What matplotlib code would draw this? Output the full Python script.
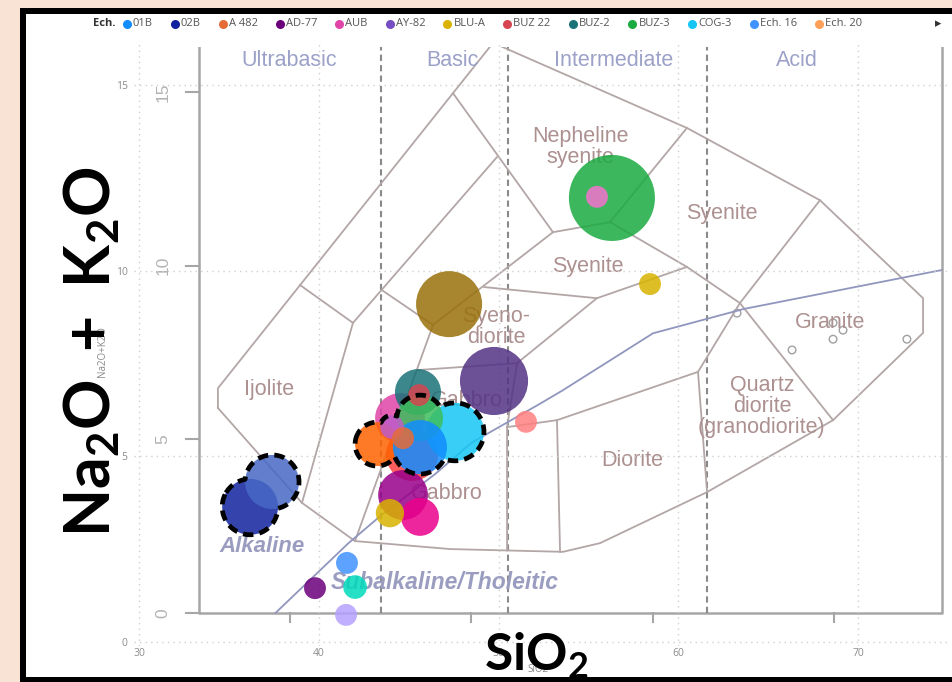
import numpy as np
import matplotlib
matplotlib.use("Agg")
import matplotlib.pyplot as plt
from matplotlib.patches import Rectangle
from matplotlib.lines import Line2D

plt.rcParams['mathtext.fontset'] = 'custom'
plt.rcParams['mathtext.rm'] = 'Lato:bold'
plt.rcParams['mathtext.it'] = 'Lato:bold'
plt.rcParams['mathtext.bf'] = 'Lato:bold'

W, H = 952, 682

# légende (premières catégories affichées)
leg_names = ['01B', '02B', 'A 482', 'AD-77', 'AUB', 'AY-82', 'BLU-A', 'BUZ 22',
             'BUZ-2', 'BUZ-3', 'COG-3', 'Ech. 16', 'Ech. 20']
leg_colors = ['#118DFF', '#12239E', '#E66C37', '#6B007B', '#E044A7', '#744EC2', '#D9B300',
              '#D64550', '#197278', '#1AAB40', '#15C6F4', '#4092FF', '#FFA058']

# échantillons, dans l'ordre de tracé
sample = ['Ech. 27', 'AUB', 'Ech. 24', 'BUZ-2', 'COG-3', 'Ech. 21', 'BUZ 22', '01B',
          'Ech. 25', 'Ech. 26', 'BLU-A', 'Ech. 17', 'A 482', '02B', 'Ech. 23', 'Ech. 16',
          'AD-77', 'Ech. 19', 'Ech. 18', 'Ech. 28', 'AY-82', 'Ech. 22', 'BUZ-3', 'Ech. 29', 'Ech. 30']
sio2 = [45.19, 44.52, 43.24, 45.52, 47.58, 45.63, 45.58, 45.63,
        44.69, 45.63, 43.96, 44.08, 44.69, 36.18, 37.40, 41.57,
        39.79, 42.02, 41.52, 47.25, 49.75, 51.53, 56.31, 55.48, 58.43]
alk = [5.04, 6.03, 5.33, 6.73, 5.66, 6.03, 6.65, 5.25,
       3.96, 3.37, 3.47, 5.79, 5.49, 3.64, 4.31, 2.13,
       1.45, 1.48, 0.73, 9.10, 7.03, 5.93, 11.96, 11.99, 9.64]
taille = [68, 62, 48, 53, 84, 53, 12, 73,
          62, 36, 20, 14, 12, 78, 73, 12,
          12, 14, 12, 109, 116, 12, 185, 12, 12]
couleur = ['#FF4141', '#E044A7', '#FF6300', '#197278', '#15C6F4', '#3DBE5C', '#D64550', '#118DFF',
           '#99008A', '#EC008C', '#D9B300', '#BE5DC9', '#E66C37', '#12239E', '#4668C5', '#4092FF',
           '#6B007B', '#00DBBC', '#B5A1FF', '#99700A', '#533285', '#FF8080', '#1AAB40', '#F472D0', '#D9B300']

# échantillons sélectionnés (contour pointillé)
selection = [['02B', 'Ech. 23'], ['Ech. 24', 'Ech. 17', 'Ech. 21', '01B', 'COG-3']]

# diagramme TAS plutonique (fond) : limites des champs
ib_sio2 = [39.2, 40, 43.2, 45, 48, 50, 53.7, 55, 60, 65, 75.9]
ib_alk = [0, 0.4, 2, 2.8, 4, 4.9, 6, 6.4, 8.05, 8.75, 9.87]
outer_sio2 = [36.03, 36.03, 51.19, 61.87, 69.20, 74.88, 74.88, 69.92, 62.98, 57.08, 55.04,
              48.82, 43.58, 40.66, 36.03]
outer_alk = [5.90, 6.47, 16.41, 13.96, 11.88, 9.06, 8.06, 5.55, 3.48, 2.01, 1.76,
             1.84, 2.07, 3.17, 5.90]
field_lines = [
    ([48.98, 54.49], [14.96, 10.96]),
    ([51.4, 43.47, 40.66], [13.12, 8.35, 3.17]),
    ([40.55, 43.47], [9.44, 8.35]),
    ([45.07, 47.88], [9.29, 8.29]),
    ([54.49, 47.88, 43.58], [10.96, 8.29, 2.07]),
    ([54.49, 57.63], [10.96, 11.25]),
    ([57.63, 61.87], [11.25, 13.96]),
    ([57.63, 61.87, 64.79, 69.92], [11.25, 9.96, 8.92, 5.55]),
    ([61.87, 56.91, 50.70], [9.96, 9.06, 9.38]),
    ([56.91, 52.51], [9.06, 7.19]),
    ([52.51, 46.98], [7.19, 6.99]),
    ([52.51, 51.96, 51.96], [7.19, 5.35, 1.80]),
    ([51.96, 54.71], [5.35, 5.55]),
    ([54.71, 62.48], [5.55, 6.94]),
    ([54.71, 54.88], [5.55, 1.76]),
    ([62.48, 62.98], [6.94, 3.48]),
    ([69.20, 64.79, 62.48], [11.88, 8.92, 6.94]),
]
pts_sio2 = [64.63, 67.66, 69.92, 70.47, 69.92, 73.99]
pts_alk = [8.63, 7.57, 8.35, 8.14, 7.88, 7.88]

rock_names = ['Nepheline\nsyenite', 'Syenite', 'Syenite', 'Syeno-\ndiorite', 'Ijolite', 'Gabbro',
              'Gabbro', 'Diorite', 'Quartz\ndiorite\n(granodiorite)', 'Granite']
rock_sio2 = [55.98, 63.80, 56.42, 51.35, 38.84, 49.75, 48.65, 58.84, 66.0, 69.75]
rock_alk = [13.41, 11.51, 9.96, 8.23, 6.42, 6.13, 3.45, 4.40, 5.93, 8.37]
classes = ['Ultrabasic', 'Basic', 'Intermediate', 'Acid']
classes_sio2 = [39.94, 48.93, 57.85, 67.93]


def box(l, t, r, b):
    return [l / W, 1 - b / H, (r - l) / W, (b - t) / H]


fig = plt.figure(figsize=(W / 100, H / 100), dpi=100)
fig.patch.set_facecolor('#F8E3D5')
fig.add_artist(Rectangle((20 / W, 0), 1, 1 - 8 / H, transform=fig.transFigure,
                         fc='black', ec='none', zorder=-10))
fig.add_artist(Rectangle((26 / W, 1 - 677 / H), 1, (677 - 14) / H, transform=fig.transFigure,
                         fc='white', ec='none', zorder=-9))

# --- fond : diagramme TAS ---
tas = fig.add_axes(box(150, 47, 950, 628))
tas.set_xlim(32.287, 76.364)
tas.set_ylim(-0.432, 16.29)
tas.axis('off')
tas.set_zorder(0)
fc = '#a6a6a6'
tas.plot([35, 35, 75.9, 75.9], [17, 0, 0, 17], color=fc, lw=1.8)
for v in [0, 5, 10, 15]:
    tas.plot([34.28, 35], [v, v], color=fc, lw=1.5)
    tas.text(33.0, v, str(v), rotation=90, ha='center', va='center', fontsize=12.5,
             color='#b3b3b3', family='Liberation Sans')
for v in [40, 50, 60, 70]:
    tas.plot([v, v], [0, -0.26], color=fc, lw=1.5)
for v in [45, 52, 63]:
    tas.plot([v, v], [0, 17], color='#8a8a8a', lw=1.5, ls=(0, (3, 2)))
lc = '#b3a6a6'
tas.plot(outer_sio2, outer_alk, color=lc, lw=1.3)
for xs, ys in field_lines:
    tas.plot(xs, ys, color=lc, lw=1.3)
tas.plot(ib_sio2, ib_alk, color='#9096bd', lw=1.3)
tas.scatter(pts_sio2, pts_alk, s=30, facecolors='none', edgecolors='#a0a0a0', linewidths=1)
for name, x, y in zip(rock_names, rock_sio2, rock_alk):
    tas.text(x, y, name, ha='center', va='center', fontsize=15.5, color='#ad9090',
             family='Liberation Sans', linespacing=1.0)
for name, x in zip(classes, classes_sio2):
    tas.text(x, 15.91, name, ha='center', va='center', fontsize=15.5, color='#9ca1c8',
             family='Liberation Sans')
tas.text(38.46, 1.90, 'Alkaline', ha='center', va='center', fontsize=16, color='#9a9dbf',
         family='Liberation Sans', style='italic', weight='bold')
tas.text(48.54, 0.89, 'Subalkaline/Tholeitic', ha='center', va='center', fontsize=16.5,
         color='#9a9dbf', family='Liberation Sans', style='italic', weight='bold')

# --- nuage de points ---
ax = fig.add_axes(box(134, 42, 950, 646))
ax.set_facecolor('none')
ax.set_zorder(1)
ax.set_xlim(29.72, 75.12)
ax.set_ylim(-0.108, 16.16)
for s in ax.spines.values():
    s.set_visible(False)
ax.set_xticks([30, 40, 50, 60, 70])
ax.set_yticks([0, 5, 10, 15])
ax.tick_params(length=0, labelsize=7.5, labelcolor='#8c8c8c')
ax.tick_params(axis='x', pad=1.5)
ax.tick_params(axis='y', pad=4.5)
for lab in ax.get_xticklabels() + ax.get_yticklabels():
    lab.set_family('Open Sans')
ax.grid(True, ls=(0, (1, 3)), color='#d0d0d0', lw=1)
ax.set_axisbelow(True)

rayon = np.sqrt(np.array(taille) * 10.0)   # rayon en pixels
ax.scatter(sio2, alk, s=(2 * rayon * 0.72) ** 2, c=couleur, alpha=0.85, linewidths=0, zorder=3)


def contour(noms):
    idx = [sample.index(n) for n in noms]
    c = ax.transData.transform(np.column_stack([np.take(sio2, idx), np.take(alk, idx)]))
    r = rayon[idx]
    t = np.linspace(0, 2 * np.pi, 900, endpoint=False)
    keep = []
    for i in range(len(idx)):
        ring = c[i] + r[i] * np.column_stack([np.cos(t), np.sin(t)])
        ok = np.ones(len(t), bool)
        for j in range(len(idx)):
            if j != i:
                ok &= np.hypot(*(ring - c[j]).T) > r[j]
        keep.append(ring[ok])
    ring = np.vstack(keep)
    g = c.mean(axis=0)
    ring = ring[np.argsort(np.arctan2(ring[:, 1] - g[1], ring[:, 0] - g[0]))]
    ring = np.vstack([ring, ring[:1]])
    return ax.transData.inverted().transform(ring)


for grp in selection:
    xy = contour(grp)
    ax.plot(xy[:, 0], xy[:, 1], color='black', lw=3.4, ls=(0, (2.2, 1.3)), zorder=4)

# titres d'axes
fig.text(102 / W, 1 - 352 / H, 'Na2O+K2O', rotation=90, ha='center', va='center',
         fontsize=7, color='#888888', family='Open Sans')
fig.text(538 / W, 1 - 669 / H, 'SiO2', ha='center', va='center',
         fontsize=7, color='#888888', family='Open Sans')
fig.text(93 / W, 1 - 352 / H, r'$\mathrm{Na_2O\ +\ K_2O}$', rotation=90, ha='center',
         va='center', fontsize=45, color='black')
fig.text(536 / W, 1 - 657 / H, r'$\mathrm{SiO_2}$', ha='center', va='center',
         fontsize=37, color='black')

# légende
rend = fig.canvas.get_renderer()
ly = 1 - 24 / H
t0 = fig.text(93 / W, ly, 'Ech.', fontsize=8, fontweight='bold', color='#333333',
              va='center', family='Open Sans')
x0 = t0.get_window_extent(rend).x1 + 7
labels = [fig.text(0, ly, n, fontsize=8, color='#555555', va='center', family='Open Sans')
          for n in leg_names]
widths = [t.get_window_extent(rend).width for t in labels]
gap = (862 - x0 - sum(w + 10 for w in widths)) / (len(widths) - 1)
x = x0
for t, w, col in zip(labels, widths, leg_colors):
    fig.add_artist(Line2D([(x + 4) / W], [ly], marker='o', ms=6.5, color=col, mec='none',
                          transform=fig.transFigure))
    t.set_x((x + 10) / W)
    x += 10 + w + gap
fig.text(938 / W, ly, '\u25B8', fontsize=9, color='#333333', va='center', ha='center',
         family='DejaVu Sans')

fig.savefig('out.png', dpi=100)
